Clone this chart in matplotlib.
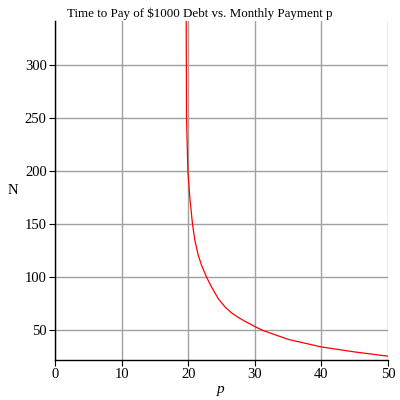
import matplotlib
matplotlib.use("Agg")
import matplotlib.pyplot as plt

# values
p_vals = [19.7, 19.75, 19.85, 19.95, 20.25, 20.65, 21.0, 21.5, 22.0, 22.75, 23.5,
          24.5, 25.5, 26.5, 27.5, 28.5, 29.5, 30.0, 31.25, 35.0, 40.0, 45.0, 50.0]
N_vals = [342, 250, 225, 200, 175, 150, 135, 121, 111.5, 100.3, 91,
          80, 72.3, 66.5, 62.3, 58.6, 55.3, 53.6, 49.8, 41.5, 34.3, 29.6, 25.6]
xticks = [0, 10, 20, 30, 40, 50]
yticks = [50, 100, 150, 200, 250, 300]

plt.rcParams['font.family'] = ['Liberation Serif', 'DejaVu Serif']
plt.rcParams['font.size'] = 10.5

fig = plt.figure(figsize=(4, 4), dpi=100)
ax = fig.add_axes([0.1375, 0.1, 0.8325, 0.8475])

ax.plot(p_vals, N_vals, color='red', lw=0.9)

ax.set_xlim(0, 50)
ax.set_ylim(22, 342)
ax.set_xticks(xticks)
ax.set_yticks(yticks)
ax.grid(True, color='#a0a0a0', lw=1)
ax.set_axisbelow(True)
for s in ['top', 'right']:
    ax.spines[s].set_visible(False)
ax.spines['left'].set_linewidth(1)
ax.spines['bottom'].set_linewidth(1)
ax.tick_params(direction='out', length=4, width=0.8, pad=2)

fig.suptitle('Time to Pay of $1000 Debt vs. Monthly Payment p', x=0.5, y=0.98, fontsize=9.4)
fig.text(0.5525, 0.025, 'p', style='italic', fontsize=11, ha='center', va='center')
fig.text(0.033, 0.525, 'N', fontsize=10.5, ha='center', va='center')

fig.savefig('out.png', dpi=100)
